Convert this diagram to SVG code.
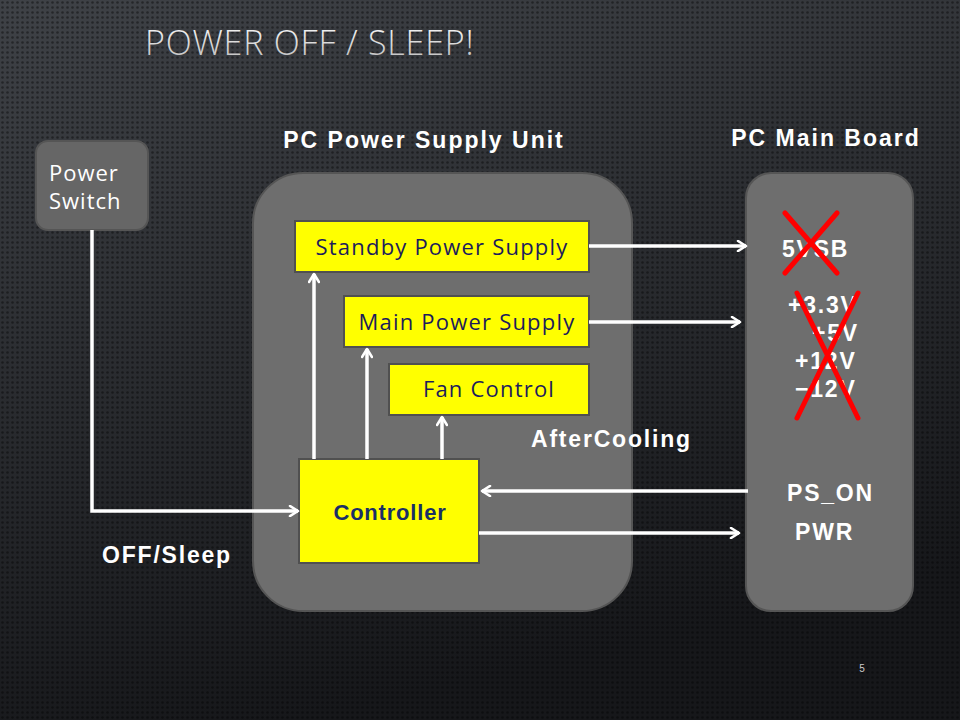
<svg xmlns="http://www.w3.org/2000/svg" width="960" height="720" viewBox="0 0 960 720">
<defs>
<linearGradient id="bg" x1="0" y1="0" x2="0.3" y2="1">
<stop offset="0" stop-color="#3f4247"/>
<stop offset="0.5" stop-color="#2a2c30"/>
<stop offset="1" stop-color="#16171a"/>
</linearGradient>
<pattern id="dots" width="5" height="5" patternUnits="userSpaceOnUse">
<circle cx="2.5" cy="2.5" r="1.3" fill="#000" fill-opacity="0.4"/>
</pattern>
<linearGradient id="tg" x1="0" y1="0" x2="0" y2="1">
<stop offset="0" stop-color="#ffffff"/>
<stop offset="1" stop-color="#b8b8b8"/>
</linearGradient>
<marker id="ah" viewBox="0 0 12 12" refX="10" refY="6" markerWidth="12" markerHeight="12" markerUnits="userSpaceOnUse" orient="auto">
<path d="M2,1 L10,6 L2,11" fill="none" stroke="#fff" stroke-width="2.6" stroke-linecap="round" stroke-linejoin="round"/>
</marker>
<style>
.big{fill:#6e6e6e;stroke:#555;stroke-width:2}
.yel{fill:#ffff00;stroke:#505050;stroke-width:2}
.lbl{font-family:"Open Sans","Liberation Sans",sans-serif;font-size:22px;letter-spacing:1.2px;fill:#1c1c5c}
.hd{font-family:"Liberation Sans",Arial,sans-serif;font-weight:bold;font-size:23px;letter-spacing:2px;fill:#fff}
.v{font-family:"Liberation Sans",Arial,sans-serif;font-weight:bold;font-size:23px;letter-spacing:1.8px;fill:#fff}
.con{fill:none;stroke:#fff;stroke-width:3.5}
.x{stroke:#ff0000;stroke-width:5;stroke-linecap:round}
</style>
</defs>
<rect width="960" height="720" fill="url(#bg)"/>
<rect width="960" height="720" fill="url(#dots)"/>
<text x="145" y="55" font-family="Open Sans,Liberation Sans,sans-serif" font-size="34" font-weight="300" letter-spacing="0.8" fill="url(#tg)">POWER OFF / SLEEP!</text>

<g id="power-switch">
<rect x="36" y="141" width="112" height="89" rx="12" fill="#666" stroke="#555" stroke-width="2"/>
<text x="49" y="181" font-family="Open Sans,Liberation Sans,sans-serif" font-size="22" letter-spacing="1" fill="#fff">Power</text>
<text x="49" y="209" font-family="Open Sans,Liberation Sans,sans-serif" font-size="22" letter-spacing="1" fill="#fff">Switch</text>
</g>

<g id="psu">
<text x="424" y="148" text-anchor="middle" class="hd">PC Power Supply Unit</text>
<rect x="253" y="173" width="379" height="438" rx="50" class="big"/>
</g>

<g id="mainboard">
<text x="826" y="146" text-anchor="middle" class="hd">PC Main Board</text>
<rect x="746" y="173" width="167" height="438" rx="25" class="big"/>
<text x="782" y="257" class="v">5VSB</text>
<text x="788" y="313" class="v">+3.3V</text>
<text x="812" y="341" class="v">+5V</text>
<text x="795" y="369" class="v">+12V</text>
<text x="795" y="397" class="v">−12V</text>
<text x="787" y="501" class="v">PS_ON</text>
<text x="795" y="540" class="v">PWR</text>
</g>

<g id="standby">
<rect x="295" y="221" width="294" height="51" class="yel"/>
<text x="442" y="255" text-anchor="middle" class="lbl">Standby Power Supply</text>
</g>
<g id="mainps">
<rect x="344" y="296" width="245" height="51" class="yel"/>
<text x="467" y="330" text-anchor="middle" class="lbl">Main Power Supply</text>
</g>
<g id="fan">
<rect x="389" y="364" width="200" height="51" class="yel"/>
<text x="489" y="397" text-anchor="middle" class="lbl">Fan Control</text>
</g>
<g id="controller">
<rect x="299" y="459" width="180" height="104" class="yel"/>
<text x="390" y="520" text-anchor="middle" font-family="Liberation Sans,Arial,sans-serif" font-weight="bold" font-size="22" letter-spacing="0.8" fill="#1a2f66">Controller</text>
</g>

<g id="connectors">
<path class="con" d="M589,246 H746" marker-end="url(#ah)"/>
<path class="con" d="M589,322 H740" marker-end="url(#ah)"/>
<path class="con" d="M314,459 V274" marker-end="url(#ah)"/>
<path class="con" d="M367,459 V349" marker-end="url(#ah)"/>
<path class="con" d="M442,459 V417" marker-end="url(#ah)"/>
<path class="con" d="M92,230 V511 H298" marker-end="url(#ah)"/>
<path class="con" d="M748,491 H482" marker-end="url(#ah)"/>
<path class="con" d="M479,533 H739" marker-end="url(#ah)"/>
</g>

<g id="crosses">
<line class="x" x1="785" y1="213" x2="837" y2="273"/>
<line class="x" x1="837" y1="213" x2="785" y2="273"/>
<line class="x" x1="797" y1="418" x2="858" y2="293"/>
<line class="x" x1="858" y1="418" x2="797" y2="293"/>
</g>

<text x="531" y="447" class="v">AfterCooling</text>
<text x="102" y="563" class="v">OFF/Sleep</text>
<text x="862" y="672" font-family="Liberation Sans,sans-serif" font-size="10" fill="#ccc" text-anchor="middle">5</text>
</svg>
